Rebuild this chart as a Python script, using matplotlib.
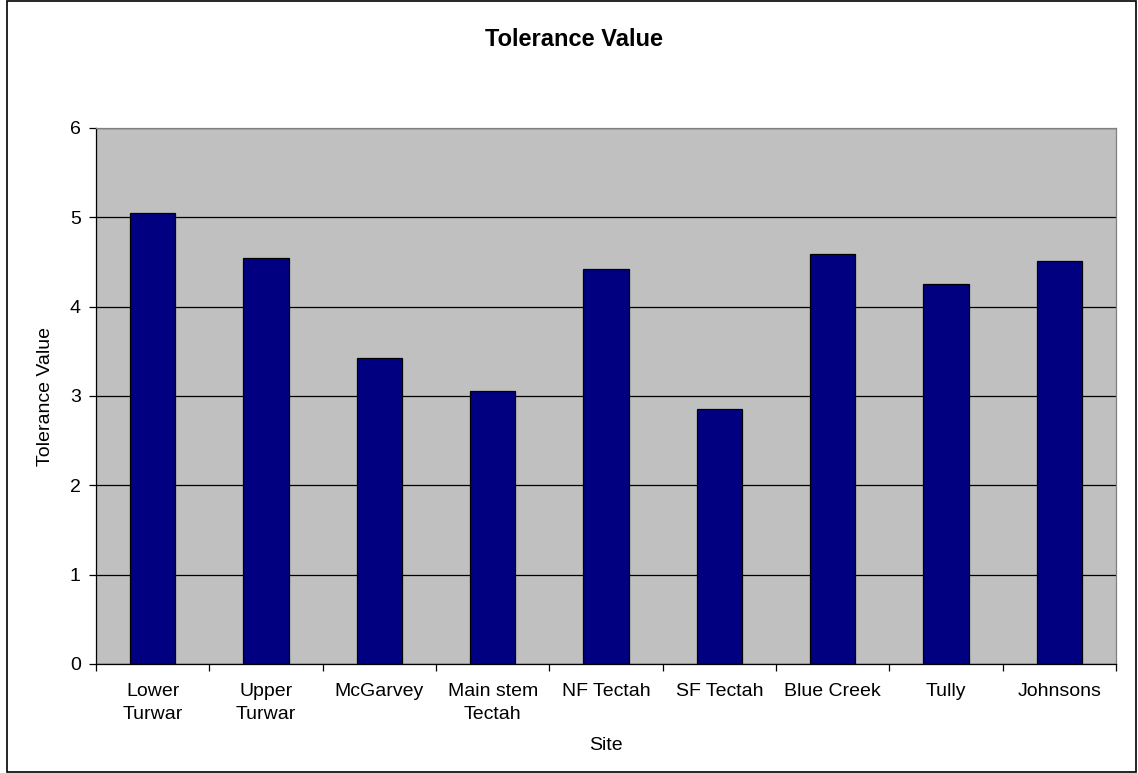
import matplotlib
matplotlib.use('Agg')
import matplotlib.pyplot as plt
from matplotlib.patches import Rectangle
import numpy as np

# Site names and tolerance values
sites = ['Lower\nTurwar', 'Upper\nTurwar', 'McGarvey', 'Main stem\nTectah',
         'NF Tectah', 'SF Tectah', 'Blue Creek', 'Tully', 'Johnsons']
tolerance = [5.05, 4.55, 3.42, 3.06, 4.42, 2.85, 4.59, 4.25, 4.51]
y_ticks = [0, 1, 2, 3, 4, 5, 6]

plt.rcParams['font.family'] = ['Liberation Sans', 'DejaVu Sans']

fig = plt.figure(figsize=(11.38, 7.73), dpi=100)
ax = fig.add_axes([96 / 1138, 1 - 664 / 773, (1116 - 96) / 1138, (664 - 128) / 773])

# Grey plot area with black gridlines behind the bars
ax.set_facecolor('#C0C0C0')
ax.set_axisbelow(True)
ax.yaxis.grid(True, color='black', linewidth=0.9)

x = np.arange(len(sites))
ax.bar(x, tolerance, width=0.4, color='#000080', edgecolor='black', linewidth=0.9)

ax.set_xlim(-0.5, len(sites) - 0.5)
ax.set_ylim(0, 6)
ax.set_yticks(y_ticks)

# Category labels in the middle, tick marks at the category boundaries
ax.set_xticks(x)
ax.set_xticklabels(sites, fontsize=14, linespacing=1.45)
ax.set_xticks(np.arange(len(sites) + 1) - 0.5, minor=True)
ax.tick_params(axis='x', which='major', length=0, pad=14)
ax.tick_params(axis='x', which='minor', length=5, width=0.9, color='black')
ax.tick_params(axis='y', labelsize=14, length=5, width=0.9, pad=6)

ax.spines['top'].set_color('#808080')
ax.spines['right'].set_color('#808080')
for side in ['left', 'bottom']:
    ax.spines[side].set_color('black')
for s in ax.spines.values():
    s.set_linewidth(0.9)

fig.text(574 / 1138, 1 - 39 / 773, 'Tolerance Value', ha='center', va='center',
         fontsize=17, fontweight='bold')
fig.text(606 / 1138, 1 - 746 / 773, 'Site', ha='center', va='center', fontsize=14)
fig.text(45 / 1138, 1 - 396 / 773, 'Tolerance Value', ha='center', va='center',
         fontsize=14, rotation=90)

# Outer chart border
fig.patches.append(Rectangle((7 / 1138, 1 / 773), 1129 / 1138, 771 / 773,
                             transform=fig.transFigure, fill=False,
                             edgecolor='black', linewidth=1.2))

fig.savefig('out.png', dpi=100)
